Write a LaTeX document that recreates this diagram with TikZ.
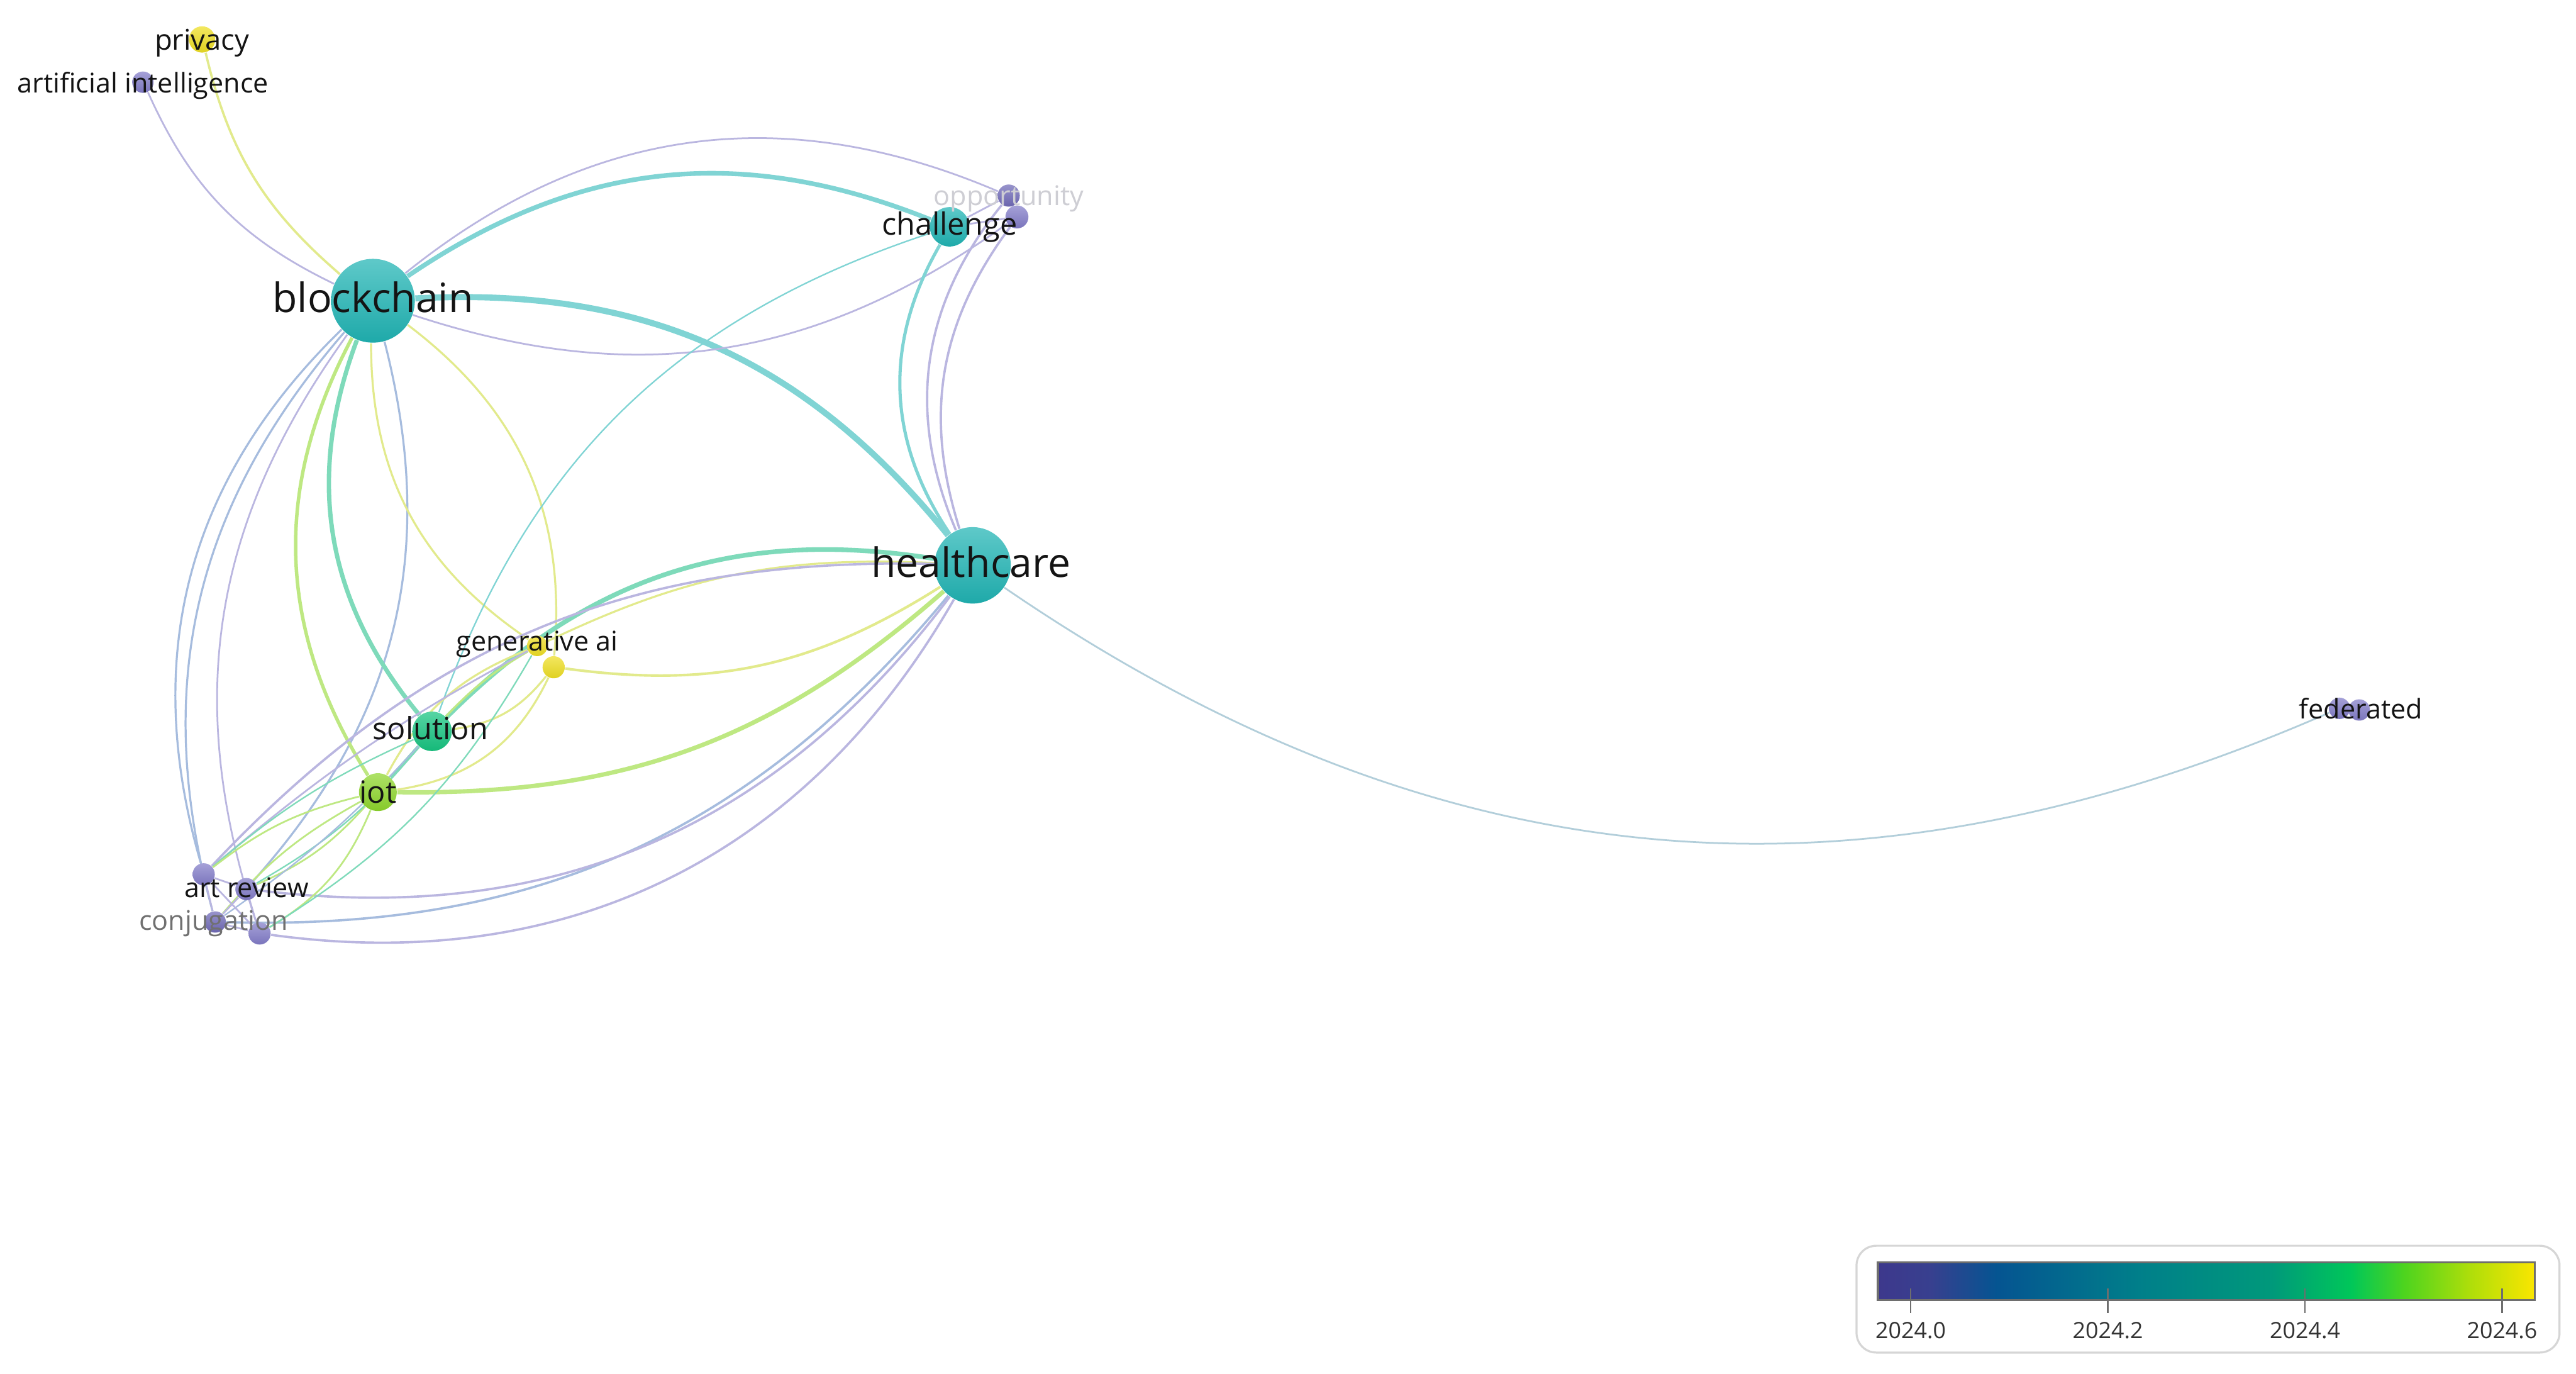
\documentclass[tikz,border=0pt]{standalone}
\usepackage{fontspec}
\setmainfont{Open Sans}
\usepackage{tikz}
\usetikzlibrary{backgrounds}

\definecolor{kwTeal}{RGB}{32,180,180}
\definecolor{kwPurple}{RGB}{130,124,200}
\definecolor{kwPurpleDk}{RGB}{112,106,184}
\definecolor{kwYellow}{RGB}{238,222,34}
\definecolor{kwGreen}{RGB}{22,196,128}
\definecolor{kwLime}{RGB}{142,214,44}
\definecolor{lnTeal}{RGB}{128,212,212}
\definecolor{lnLav}{RGB}{186,182,224}
\definecolor{lnBlue}{RGB}{166,188,222}
\definecolor{lnYellow}{RGB}{226,234,140}
\definecolor{lnGreen}{RGB}{126,218,186}
\definecolor{lnLime}{RGB}{190,232,130}
\definecolor{lnFed}{RGB}{178,206,218}
\definecolor{lbGray}{RGB}{112,112,112}
\definecolor{lbLight}{RGB}{206,206,212}
\definecolor{boxLine}{RGB}{214,214,214}
\definecolor{barLine}{RGB}{110,110,110}

\pgfdeclarehorizontalshading{yearbar}{100bp}{
  rgb(0bp)=(0.24,0.22,0.55);
  rgb(25bp)=(0.24,0.22,0.55);
  rgb(29bp)=(0.22,0.25,0.56);
  rgb(34bp)=(0.02,0.33,0.57);
  rgb(45bp)=(0.00,0.50,0.54);
  rgb(55bp)=(0.00,0.60,0.48);
  rgb(61bp)=(0.00,0.78,0.35);
  rgb(65bp)=(0.30,0.83,0.12);
  rgb(70bp)=(0.68,0.87,0.04);
  rgb(75bp)=(0.98,0.90,0.00);
  rgb(100bp)=(0.98,0.90,0.00)}

\begin{document}
\begin{tikzpicture}[
    x=0.02cm, y=-0.02cm,
    kwnode/.style={circle, inner sep=0pt, top color=#1!72!white, bottom color=#1!94!black},
    kwlabel/.style={inner sep=0pt, text=black!92, font=\fontsize{9.4}{11}\selectfont},
    midlabel/.style={kwlabel, font=\fontsize{10.6}{12}\selectfont},
    biglabel/.style={kwlabel, font=\fontsize{14}{16}\selectfont},
    tealln/.style={draw=lnTeal, line width=#1}, tealln/.default=0.7pt,
    lavln/.style={draw=lnLav, line width=#1}, lavln/.default=0.6pt,
    blueln/.style={draw=lnBlue, line width=#1}, blueln/.default=0.7pt,
    yelln/.style={draw=lnYellow, line width=#1}, yelln/.default=0.7pt,
    greenln/.style={draw=lnGreen, line width=#1}, greenln/.default=0.7pt,
    limeln/.style={draw=lnLime, line width=#1}, limeln/.default=0.7pt,
    yrlabel/.style={inner sep=0pt, text=black!80, font=\fontsize{7.8}{10}\selectfont}
]
    \useasboundingbox (0,0) rectangle (1568,836);

    % Keywords
    \node[kwnode=kwYellow, minimum size=0.32cm] (priv) at (123,24) {};
    \node[kwnode=kwPurple, minimum size=0.26cm] (ai) at (87,50) {};
    \node[kwnode=kwTeal, minimum size=1.02cm] (bc) at (227,183) {};
    \node[kwnode=kwTeal, minimum size=0.48cm] (chal) at (578,138) {};
    \node[kwnode=kwPurpleDk, minimum size=0.27cm] (opp1) at (614,119) {};
    \node[kwnode=kwPurple, minimum size=0.28cm] (opp2) at (619,132) {};
    \node[kwnode=kwTeal, minimum size=0.93cm] (hc) at (592,344) {};
    \node[kwnode=kwYellow, minimum size=0.25cm] (gen1) at (327,393) {};
    \node[kwnode=kwYellow, minimum size=0.27cm] (gen2) at (337,406) {};
    \node[kwnode=kwGreen, minimum size=0.48cm] (sol) at (263,445) {};
    \node[kwnode=kwLime, minimum size=0.46cm] (iot) at (230,482) {};
    \node[kwnode=kwPurple, minimum size=0.27cm] (art1) at (124,532) {};
    \node[kwnode=kwPurple, minimum size=0.27cm] (art2) at (150,541) {};
    \node[kwnode=kwPurpleDk, minimum size=0.26cm] (conj1) at (131,561) {};
    \node[kwnode=kwPurple, minimum size=0.27cm] (conj2) at (158,568) {};
    \node[kwnode=kwPurple, minimum size=0.26cm] (fed1) at (1424,431) {};
    \node[kwnode=kwPurple, minimum size=0.26cm] (fed2) at (1436,432) {};

    % Labels
    \node[kwlabel, font=\fontsize{9.9}{12}\selectfont] (privL) at (123,26) {privacy};
    \node[kwlabel] (aiL) at (87,52) {artificial intelligence};
    \node[biglabel] (bcL) at (227,181) {blockchain};
    \node[kwlabel, text=lbLight] (oppL) at (614,121) {opportunity};
    \node[midlabel] (chalL) at (chal) {challenge};
    \node[biglabel] (hcL) at (591,342) {healthcare};
    \node[kwlabel] (genL) at (327,392) {generative ai};
    \node[midlabel] (solL) at (262,443) {solution};
    \node[midlabel] (iotL) at (iot) {iot};
    \node[kwlabel] (artL) at (150,540) {art review};
    \node[kwlabel, text=lbGray] (conjL) at (130,562) {conjugation};
    \node[kwlabel] (fedL) at (1437,431) {federated};

    \begin{scope}[on background layer]
    \fill[white] (0,0) rectangle (1568,836);

    % 1. Blockchain links
    \draw[lavln] (ai) to[bend right=20] (bc);
    \draw[yelln=0.8pt] (priv) to[bend right=18] (bc);
    \draw[tealln=1.6pt] (bc) to[bend left=28] (chal);
    \draw[lavln] (bc) to[bend left=31] (opp1);
    \draw[tealln=2.1pt] (bc) to[bend left=27] (hc);
    \draw[lavln] (bc) to[bend right=27] (opp2);
    \draw[blueln] (bc) to[bend right=31] (art1);
    \draw[blueln] (bc) to[bend right=28] (conj1);
    \draw[lavln] (bc) to[bend right=27] (conj2);
    \draw[blueln] (bc) to[bend left=28] (art2);
    \draw[limeln=1.2pt] (bc) to[bend right=30] (iot);
    \draw[greenln=1.5pt] (bc) to[bend right=30] (sol);
    \draw[yelln] (bc) to[bend right=28] (gen1);
    \draw[yelln] (bc) to[bend left=29] (gen2);

    % 2. Challenge and opportunity
    \draw[tealln=1.1pt] (chal) to[bend right=32] (hc);
    \draw[lavln=0.8pt] (opp1) to[bend right=31] (hc);
    \draw[lavln=0.8pt] (opp2) to[bend right=27] (hc);
    \draw[tealln=0.5pt] (chal) to[bend right=26] (sol);
    \draw[lavln] (chal) -- (opp1);
    \draw[lavln] (chal) -- (opp2);

    % 3. Healthcare links
    \draw[draw=lnFed, line width=0.6pt] (hc) to[bend right=29] (fed1);
    \draw[yelln=0.9pt] (gen2) to[bend right=20] (hc);
    \draw[yelln] (gen1) to[bend left=14] (hc);
    \draw[greenln=1.6pt] (hc) to[bend right=27] (sol);
    \draw[limeln=1.5pt] (iot) to[bend right=21] (hc);
    \draw[lavln=0.8pt] (hc) to[bend right=24] (art1);
    \draw[blueln=0.8pt] (conj1) to[bend right=26] (hc);
    \draw[lavln=0.8pt] (art2) to[bend right=30] (hc);
    \draw[lavln=0.8pt] (conj2) to[bend right=34] (hc);

    % 4. Lower cluster
    \draw[greenln=1.2pt] (sol) -- (iot);
    \draw[limeln] (gen1) to[bend right=8] (sol);
    \draw[yelln] (gen2) to[bend left=22] (sol);
    \draw[yelln] (gen1) to[bend right=20] (iot);
    \draw[yelln] (gen2) to[bend left=28] (iot);
    \draw[lavln] (art1) to[bend left=6] (gen1);
    \draw[greenln=0.5pt] (art1) to[bend left=8] (sol);
    \draw[limeln=0.6pt] (art1) to[bend left=12] (iot);
    \draw[limeln=0.6pt] (art2) to[bend right=12] (iot);
    \draw[greenln=0.5pt] (art2) to[bend right=10] (sol);
    \draw[limeln=0.6pt] (conj1) to[bend left=10] (iot);
    \draw[blueln=0.5pt] (conj1) to[bend right=6] (sol);
    \draw[limeln=0.6pt] (conj2) to[bend right=18] (iot);
    \draw[greenln=0.5pt] (conj2) to[bend right=14] (gen1);
    \draw[lavln] (art1) -- (art2);
    \draw[lavln] (art1) -- (conj1);
    \draw[lavln] (art1) -- (conj2);
    \draw[lavln] (art2) -- (conj1);
    \draw[lavln] (art2) -- (conj2);
    \draw[lavln] (conj1) -- (conj2);
    \draw[lavln] (fed1) -- (fed2);
    \end{scope}

    % Year colour bar
    \node[draw=boxLine, line width=0.7pt, rounded corners=0.24cm, minimum width=8.56cm, minimum height=1.3cm] (legend) at (1344,790.5) {};
    \node[draw=barLine, line width=0.7pt, shading=yearbar, minimum width=8cm, minimum height=0.46cm, inner sep=0pt] (bar) at (1343,779.5) {};
    \foreach \yr/\xx in {2024.0/1163, 2024.2/1283, 2024.4/1403, 2024.6/1523} {
        \draw[barLine, line width=0.5pt] (\xx,784) -- (\xx,799);
        \node[yrlabel] (yr\xx) at (\xx,809.5) {\yr};
    }
\end{tikzpicture}
\end{document}
